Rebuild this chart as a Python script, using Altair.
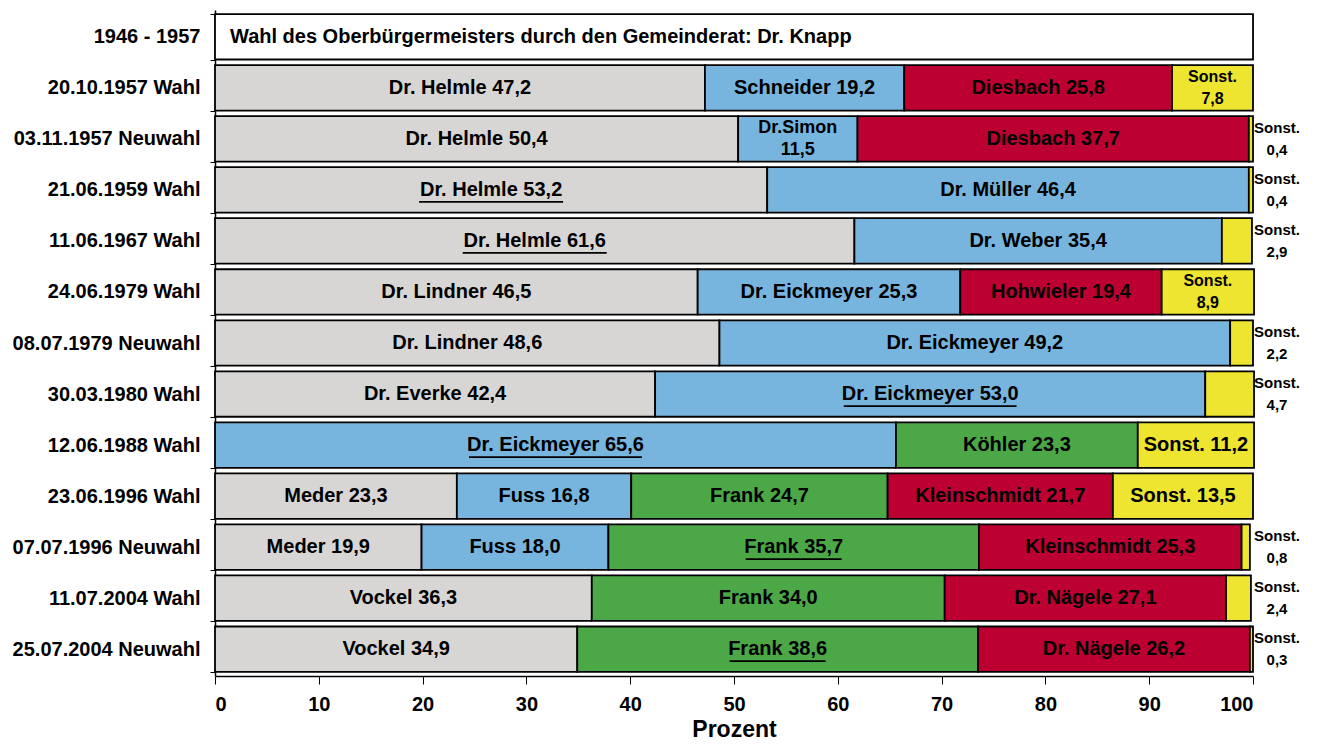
import altair as alt
import pandas as pd

rows = ["1946 - 1957", "20.10.1957 Wahl", "03.11.1957 Neuwahl", "21.06.1959 Wahl",
        "11.06.1967 Wahl", "24.06.1979  Wahl", "08.07.1979 Neuwahl", "30.03.1980 Wahl",
        "12.06.1988 Wahl", "23.06.1996 Wahl", "07.07.1996 Neuwahl", "11.07.2004 Wahl",
        "25.07.2004 Neuwahl"]

candidates = [
    ["Wahl des Oberbürgermeisters durch den Gemeinderat: Dr. Knapp"],
    ["Dr. Helmle", "Schneider", "Diesbach ", "Sonst."],
    ["Dr. Helmle", "Dr.Simon", "Diesbach ", "Sonst."],
    ["Dr. Helmle", "Dr. Müller", "Sonst."],
    ["Dr. Helmle", "Dr. Weber", "Sonst."],
    ["Dr. Lindner", "Dr. Eickmeyer", "Hohwieler", "Sonst."],
    ["Dr. Lindner", "Dr. Eickmeyer", "Sonst."],
    ["Dr. Everke", "Dr. Eickmeyer", "Sonst."],
    ["Dr. Eickmeyer", "Köhler", "Sonst."],
    ["Meder", "Fuss", "Frank", "Kleinschmidt", "Sonst."],
    ["Meder", "Fuss", "Frank", "Kleinschmidt", "Sonst."],
    ["Vockel", "Frank", "Dr. Nägele", "Sonst."],
    ["Vockel", "Frank", "Dr. Nägele", "Sonst."],
]
values = [
    [100.0],
    [47.2, 19.2, 25.8, 7.8],
    [50.4, 11.5, 37.7, 0.4],
    [53.2, 46.4, 0.4],
    [61.6, 35.4, 2.9],
    [46.5, 25.3, 19.4, 8.9],
    [48.6, 49.2, 2.2],
    [42.4, 53.0, 4.7],
    [65.6, 23.3, 11.2],
    [23.3, 16.8, 24.7, 21.7, 13.5],
    [19.9, 18.0, 35.7, 25.3, 0.8],
    [36.3, 34.0, 27.1, 2.4],
    [34.9, 38.6, 26.2, 0.3],
]
groups = [
    ["weiss"],
    ["grau", "blau", "rot", "gelb"],
    ["grau", "blau", "rot", "gelb"],
    ["grau", "blau", "gelb"],
    ["grau", "blau", "gelb"],
    ["grau", "blau", "rot", "gelb"],
    ["grau", "blau", "gelb"],
    ["grau", "blau", "gelb"],
    ["blau", "gruen", "gelb"],
    ["grau", "blau", "gruen", "rot", "gelb"],
    ["grau", "blau", "gruen", "rot", "gelb"],
    ["grau", "gruen", "rot", "gelb"],
    ["grau", "gruen", "rot", "gelb"],
]
# label style: "in" = one line inside, "in2" = two lines inside, "out" = two lines right of bar, "left" = left aligned
styles = [
    ["left"],
    ["in", "in", "in", "in2"],
    ["in", "in2", "in", "out"],
    ["in", "in", "out"],
    ["in", "in", "out"],
    ["in", "in", "in", "in2"],
    ["in", "in", "out"],
    ["in", "in", "out"],
    ["in", "in", "in"],
    ["in", "in", "in", "in", "in"],
    ["in", "in", "in", "in", "out"],
    ["in", "in", "in", "out"],
    ["in", "in", "in", "out"],
]
underlined = [
    [False], [False] * 4, [False] * 4, [True, False, False], [True, False, False],
    [False] * 4, [False] * 3, [False, True, False], [True, False, False], [False] * 5,
    [False, False, True, False, False], [False] * 4, [False, True, False, False],
]

group_keys = ["weiss", "grau", "blau", "rot", "gelb", "gruen"]
group_colors = ["#FFFFFF", "#D7D6D5", "#77B5DE", "#BC0031", "#EDE52F", "#4CA846"]

PX_PER_UNIT = 1038 / 100.0

recs = []
for r, names, vals, grp, sty, und in zip(rows, candidates, values, groups, styles, underlined):
    start = 0.0
    for n, v, g, s, u in zip(names, vals, grp, sty, und):
        end = start + v
        vs = f"{v:.1f}".replace(".", ",")
        if s == "left":
            label, fs = n, 20
        elif s == "in":
            label, fs = f"{n} {vs}", 20
        elif s == "in2":
            label, fs = f"{n}\n{vs}", 16 if n == "Sonst." else 18
        else:
            label, fs = f"{n}\n{vs}", 15
        mid = (start + end) / 2
        hw = len(label) * 9.6 / 2 / PX_PER_UNIT
        recs.append(dict(row=r, start=start, end=end, mid=mid, group=g, label=label,
                         style=s, fs=fs, under=u, u0=mid - hw, u1=mid + hw))
        start = end

df = pd.DataFrame(recs)

FONT = "Liberation Sans"
yenc = alt.Y("row:N", sort=rows, title=None,
             scale=alt.Scale(paddingInner=0.11, paddingOuter=0.08),
             axis=alt.Axis(labelFontSize=20, labelFont=FONT, labelFontWeight="bold",
                           labelColor="black",
                           labelPadding=10, tickBand="extent", tickSize=5,
                           tickColor="black", domainColor="black", domainWidth=1.5,
                           labelLimit=250))

bars = alt.Chart(df).mark_bar(stroke="black", strokeWidth=1.8).encode(
    y=yenc,
    x=alt.X("start:Q", scale=alt.Scale(domain=[0, 100], nice=False),
            axis=alt.Axis(values=list(range(0, 101, 10)), labelFontSize=20, labelFont=FONT,
                          labelFontWeight="bold",
                          labelColor="black", title="Prozent", titleFontSize=23,
                          titleFont=FONT, titleFontWeight="bold", titleColor="black",
                          grid=False, tickSize=8, tickColor="black", domainColor="black",
                          domainWidth=1.5, labelPadding=10, titlePadding=4)),
    x2="end:Q",
    color=alt.Color("group:N", scale=alt.Scale(domain=group_keys, range=group_colors), legend=None),
)

inside = alt.Chart(df).transform_filter("datum.style == 'in'").mark_text(
    font=FONT, fontWeight="bold", color="black", baseline="middle"
).encode(
    y=alt.Y("row:N", sort=rows),
    x="mid:Q",
    text="label:N",
    size=alt.Size("fs:Q", scale=None),
)

inside2 = alt.Chart(df).transform_filter("datum.style == 'in2'").mark_text(
    font=FONT, fontWeight="bold", color="black", lineBreak="\n", baseline="middle",
    lineHeight=22, dy=-11
).encode(
    y=alt.Y("row:N", sort=rows),
    x="mid:Q",
    text="label:N",
    size=alt.Size("fs:Q", scale=None),
)

left = alt.Chart(df).transform_filter("datum.style == 'left'").mark_text(
    font=FONT, fontWeight="bold", color="black", align="left", dx=15, baseline="middle"
).encode(
    y=alt.Y("row:N", sort=rows),
    x="start:Q",
    text="label:N",
    size=alt.Size("fs:Q", scale=None),
)

outside = alt.Chart(df).transform_filter("datum.style == 'out'").mark_text(
    font=FONT, fontWeight="bold", color="black", lineBreak="\n", baseline="middle",
    lineHeight=22, dx=24, dy=-11
).encode(
    y=alt.Y("row:N", sort=rows),
    x=alt.datum(100),
    text="label:N",
    size=alt.Size("fs:Q", scale=None),
)

unders = alt.Chart(df).transform_filter("datum.under").mark_rule(
    color="black", strokeWidth=1.8, yOffset=12
).encode(
    y=alt.Y("row:N", sort=rows),
    x="u0:Q",
    x2="u1:Q",
)

chart = alt.layer(bars, inside, inside2, left, outside, unders).properties(
    width=1038, height=666,
    autosize=alt.AutoSizeParams(type="none"),
    padding={"left": 207, "top": 2, "right": 60, "bottom": 67},
).configure_view(stroke=None)

chart.save("out.html", embed_options={"renderer": "svg", "actions": False})
